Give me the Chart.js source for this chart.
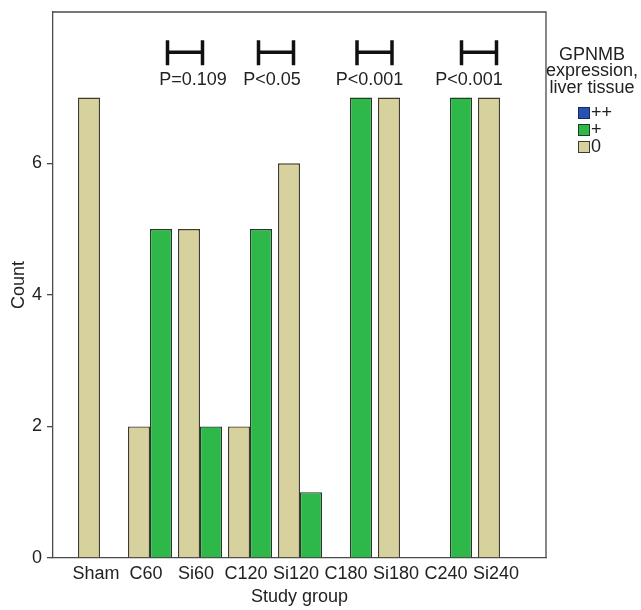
<!DOCTYPE html>
<html>
<head>
<meta charset="utf-8">
<script src="https://cdn.jsdelivr.net/npm/chart.js@4.4.1/dist/chart.umd.min.js"></script>
<style>
  body { margin: 0; background: #fff; }
  #wrap { width: 641px; height: 610px; }
</style>
</head>
<body>
<div id="wrap"><canvas id="chart" width="641" height="610"></canvas></div>
<script>
// study groups on the x axis
const groups = ['Sham', 'C60', 'Si60', 'C120', 'Si120', 'C180', 'Si180', 'C240', 'Si240'];
// counts per expression level
const countZero = [7, 2, 5, 2, 6, 0, 7, 0, 7];
const countPlus = [0, 5, 2, 5, 1, 7, 0, 7, 0];
const legendLevels = ['++', '+', '0'];
const legendTitle = ['GPNMB', 'expression,', 'liver tissue'];
const yTicks = [0, 2, 4, 6];
const pLabels = ['P=0.109', 'P<0.05', 'P<0.001', 'P<0.001'];

const colors = { '++': '#2b50b4', '+': '#2fb84a', '0': '#d7d19e' };
const borders = { '++': '#1a2a55', '+': '#1c3f22', '0': '#3f3b2a' };
const axisColor = '#4a4a4a';
const fontStr = '18px "Liberation Sans", Arial, sans-serif';

Chart.defaults.font.family = '"Liberation Sans", Arial, sans-serif';
Chart.defaults.font.size = 18;
Chart.defaults.color = '#222';

// bracket centres / text centres in x units
const sigMarks = [
  { bx: 1.70, tx: 1.86 },
  { bx: 3.52, tx: 3.44 },
  { bx: 5.49, tx: 5.39 },
  { bx: 7.58, tx: 7.38 }
];

const toPoints = arr => arr.map((v, i) => ({ x: i, y: v }));

// top + right frame lines
const framePlugin = {
  id: 'frame',
  beforeDatasetsDraw(chart) {
    const { ctx, chartArea: a } = chart;
    ctx.save();
    ctx.strokeStyle = axisColor;
    ctx.lineWidth = 1.3;
    ctx.beginPath();
    ctx.moveTo(a.left, a.top);
    ctx.lineTo(a.right, a.top);
    ctx.lineTo(a.right, a.bottom);
    ctx.stroke();
    ctx.restore();
  }
};

// significance brackets with P values
const sigPlugin = {
  id: 'sig',
  afterDatasetsDraw(chart) {
    const { ctx, scales: { x, y } } = chart;
    ctx.save();
    ctx.strokeStyle = '#111';
    ctx.lineWidth = 3.5;
    ctx.fillStyle = '#222';
    ctx.textAlign = 'center';
    ctx.textBaseline = 'middle';
    ctx.font = fontStr;
    sigMarks.forEach((m, i) => {
      const cx = x.getPixelForValue(m.bx);
      const half = 17.5;
      const yMid = y.getPixelForValue(7.69);
      const yTop = y.getPixelForValue(7.87);
      const yBot = y.getPixelForValue(7.49);
      ctx.beginPath();
      ctx.moveTo(cx - half, yTop); ctx.lineTo(cx - half, yBot);
      ctx.moveTo(cx + half, yTop); ctx.lineTo(cx + half, yBot);
      ctx.moveTo(cx - half, yMid); ctx.lineTo(cx + half, yMid);
      ctx.stroke();
      ctx.fillText(pLabels[i], x.getPixelForValue(m.tx), y.getPixelForValue(7.26));
    });
    ctx.restore();
  }
};

// SPSS style legend at the right
const legendPlugin = {
  id: 'sideLegend',
  afterDraw(chart) {
    const { ctx, chartArea: a } = chart;
    ctx.save();
    ctx.fillStyle = '#222';
    ctx.textBaseline = 'middle';
    ctx.font = fontStr;
    ctx.textAlign = 'center';
    const cx = a.right + 46;
    legendTitle.forEach((t, i) => ctx.fillText(t, cx, a.top + 43 + i * 16.5));
    ctx.textAlign = 'left';
    legendLevels.forEach((lv, i) => {
      const cy = a.top + 101 + i * 17;
      const bx = a.right + 32;
      ctx.fillStyle = colors[lv];
      ctx.fillRect(bx, cy - 6, 12, 12);
      ctx.strokeStyle = borders[lv];
      ctx.lineWidth = 1;
      ctx.strokeRect(bx + 0.5, cy - 5.5, 11, 11);
      ctx.fillStyle = '#222';
      ctx.fillText(lv, bx + 13, cy);
    });
    ctx.restore();
  }
};

new Chart(document.getElementById('chart'), {
  type: 'bar',
  data: {
    datasets: [
      {
        label: '0',
        data: toPoints(countZero),
        backgroundColor: colors['0'],
        borderColor: borders['0'],
        borderWidth: 1.4
      },
      {
        label: '+',
        data: toPoints(countPlus),
        backgroundColor: colors['+'],
        borderColor: borders['+'],
        borderWidth: 1.4
      }
    ]
  },
  options: {
    responsive: false,
    animation: false,
    layout: { padding: { top: 12, right: 95, left: 0, bottom: 0 } },
    datasets: { bar: { categoryPercentage: 0.88, barPercentage: 1 } },
    plugins: { legend: { display: false }, tooltip: { enabled: false } },
    scales: {
      x: {
        type: 'linear',
        offset: false,
        min: -0.94,
        max: 8.92,
        afterBuildTicks: s => { s.ticks = groups.map((g, i) => ({ value: i })); },
        afterFit: s => { s.height = 52; },
        ticks: {
          callback: v => groups[v] ?? '',
          padding: 5,
          labelOffset: -4,
          maxRotation: 0,
          autoSkip: false,
          color: '#222'
        },
        grid: { display: false, drawTicks: false },
        border: { display: true, color: axisColor, width: 1.3 },
        title: { display: true, text: 'Study group', padding: { top: 2, bottom: 2 }, color: '#222' }
      },
      y: {
        min: 0,
        max: 8.3,
        afterBuildTicks: s => { s.ticks = yTicks.map(v => ({ value: v })); },
        afterFit: s => { s.width = 53; s.paddingTop = 0; },
        ticks: { padding: 5, color: '#222' },
        grid: { drawOnChartArea: false, drawTicks: true, tickLength: 6, color: axisColor, lineWidth: 1.3 },
        border: { display: true, color: axisColor, width: 1.3 },
        title: { display: true, text: 'Count', padding: { top: 8, bottom: 8 }, color: '#222' }
      }
    }
  },
  plugins: [framePlugin, sigPlugin, legendPlugin]
});
</script>
</body>
</html>
